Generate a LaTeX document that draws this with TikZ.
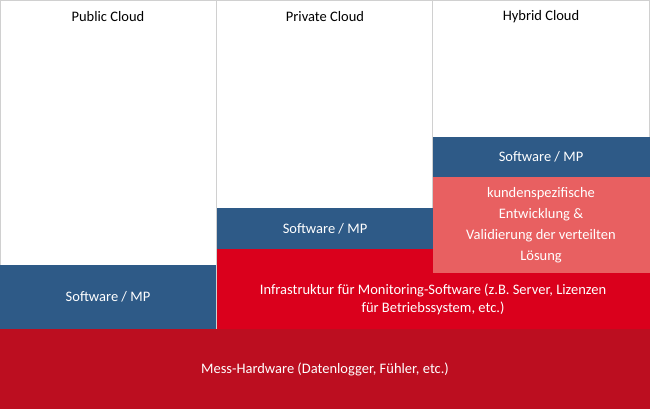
\documentclass[tikz,border=0pt]{standalone}
\usepackage{fontspec}
\setmainfont{Carlito}
\definecolor{cblue}{HTML}{2E5A87}
\definecolor{cred}{HTML}{DA001C}
\definecolor{cdark}{HTML}{BC0E20}
\definecolor{clight}{HTML}{E86061}
\definecolor{cgray}{HTML}{D0D0D0}
\begin{document}
\begin{tikzpicture}[x=1pt,y=-1pt,
  box/.style={inner sep=0pt,text=white,font=\fontsize{14.5}{18}\selectfont,align=center},
  col/.style={draw=cgray,line width=1pt,fill=white}]
\useasboundingbox (0,0) rectangle (650,409);
\fill[white] (0,0) rectangle (650,409);
\draw[col] (0.5,0.5) rectangle (216.5,330);
\draw[col] (216.5,0.5) rectangle (432.5,330);
\draw[col] (432.5,0.5) rectangle (649.5,330);
\node[font=\fontsize{14.5}{18}\selectfont] (t1) at (108,17) {Public Cloud};
\node[font=\fontsize{14.5}{18}\selectfont] (t2) at (325,17) {Private Cloud};
\node[font=\fontsize{14.5}{18}\selectfont] (t3) at (541,17) {Hybrid Cloud};
\fill[cblue] (0,265) rectangle (216,329);
\node[box] (s1) at (108,297) {Software / MP};
\fill[cblue] (217,208) rectangle (433,249);
\node[box] (s2) at (325,228.5) {Software / MP};
\fill[cred] (217,249) rectangle (650,329);
\node[box] (inf) at (433,299) {Infrastruktur für Monitoring-Software (z.B. Server, Lizenzen\\für Betriebssystem, etc.)};
\fill[cblue] (433,137) rectangle (650,177);
\node[box] (s3) at (541,157) {Software / MP};
\fill[clight] (433,177) rectangle (650,273);
\node[box,font=\fontsize{14.5}{21}\selectfont] (k) at (541,225) {kundenspezifische\\Entwicklung \&\\Validierung der verteilten\\Lösung};
\fill[cdark] (0,329) rectangle (650,409);
\node[box] (m) at (325,369) {Mess-Hardware (Datenlogger, Fühler, etc.)};
\end{tikzpicture}
\end{document}
